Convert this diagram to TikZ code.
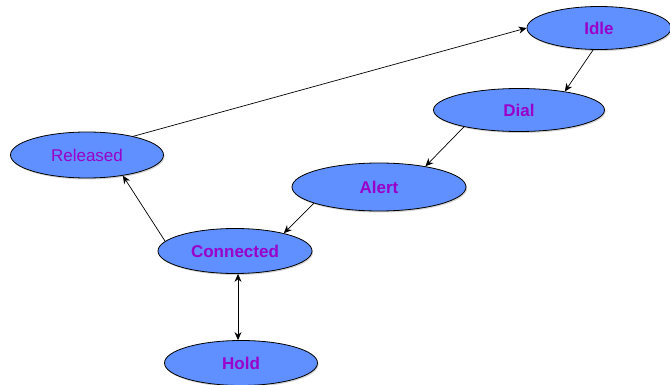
\documentclass[tikz,border=0pt]{standalone}
\usepackage{fontspec}
\setmainfont{Liberation Sans}
\usetikzlibrary{shapes.geometric,arrows.meta,shadows}
\definecolor{stfill}{HTML}{6090FF}
\definecolor{sttext}{HTML}{9900CC}
\tikzset{
  st/.style={ellipse, draw=black, line width=0.8pt, fill=stfill, inner sep=0pt,
    text=sttext, font=\fontsize{17}{20}\selectfont\bfseries,
    drop shadow={shadow xshift=1pt, shadow yshift=-1.5pt, opacity=0.35}},
  conn/.style={line width=0.7pt, -{Stealth[length=8pt,width=7pt]}},
}
\begin{document}
\begin{tikzpicture}[x=1pt,y=-1pt]
\useasboundingbox (0,0) rectangle (670,385);
\node[st, minimum width=144pt, minimum height=43pt] (idle) at (599,28) {Idle};
\node[st, minimum width=171pt, minimum height=43pt] (dial) at (519,110) {Dial};
\node[st, minimum width=174pt, minimum height=48pt] (alert) at (379,187) {Alert};
\node[st, minimum width=153pt, minimum height=46pt, font=\fontsize{17}{20}\selectfont] (rel) at (87,155) {Released};
\node[st, minimum width=154pt, minimum height=45pt] (con) at (235,251) {Connected};
\node[st, minimum width=153pt, minimum height=45pt] (hold) at (241,363) {Hold};
\draw[conn] (rel.22) -- (idle.west);
\draw[conn] (idle.255) -- (dial.22);
\draw[conn] (dial.197) -- (alert.24);
\draw[conn] (alert.194) -- (con.20);
\draw[conn] (con.172) -- (rel.330);
\draw[conn, {Stealth[length=8pt,width=7pt]}-{Stealth[length=8pt,width=7pt]}] ([xshift=3pt]con.south) -- ([xshift=-3pt]hold.north);
\end{tikzpicture}
\end{document}
